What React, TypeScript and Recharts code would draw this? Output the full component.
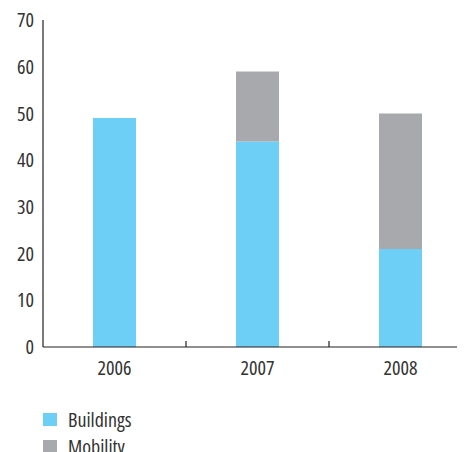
import React from 'react';
import { BarChart, Bar, XAxis, YAxis, Legend } from 'recharts';

const categories = ['2006', '2007', '2008'];
const buildings = [49, 44, 21];
const mobility = [0, 15, 29];
const yTicks = [0, 10, 20, 30, 40, 50, 60, 70];

const data = categories.map((c, i) => ({ year: c, Buildings: buildings[i], Mobility: mobility[i] }));

const FONT = '"Open Sans", sans-serif';
const STRETCH = 'condensed';
const FONT_SIZE = 20;
const TEXT = '#333333';
const AXIS = '#231f20';
const BLUE = '#6dcff6';
const GRAY = '#a7a9ac';
const TICK_SIZE = 6;
const X_TICK_MARGIN = 8;

const LegendContent = () => (
  <div style={{ paddingLeft: 35, fontFamily: FONT, fontStretch: STRETCH, fontSize: FONT_SIZE, color: TEXT }}>
    {[
      { name: 'Buildings', color: BLUE },
      { name: 'Mobility', color: GRAY },
    ].map((it) => (
      <div key={it.name} style={{ height: 27, display: 'flex', alignItems: 'center' }}>
        <span style={{ display: 'inline-block', width: 14, height: 13, background: it.color, marginRight: 11 }} />
        <span>{it.name}</span>
      </div>
    ))}
  </div>
);

const tickStyle = { fill: TEXT, fontSize: FONT_SIZE, fontFamily: FONT, fontStretch: STRETCH } as any;

const XTick = (props: any) => {
  const { x, y, payload, index } = props;
  const half = payload && payload.offset ? payload.offset : 0;
  const axisY = y - TICK_SIZE - X_TICK_MARGIN;
  return (
    <g>
      <text x={x} y={y} dy="0.71em" textAnchor="middle" style={tickStyle} fill={TEXT}>
        {payload.value}
      </text>
      {index < categories.length - 1 && half > 0 && (
        <line x1={x + half} x2={x + half} y1={axisY} y2={axisY - 6} stroke={AXIS} strokeWidth={1.2} />
      )}
    </g>
  );
};

export default function App() {
  return (
    <div style={{ width: 457, height: 452, marginTop: -8, overflow: 'hidden' }}>
      <BarChart
        width={464}
        height={460}
        data={data}
        margin={{ top: 20, right: 0, bottom: 0, left: 0 }}
        barSize={43}
      >
        <XAxis
          dataKey="year"
          height={59}
          tickLine={false}
          tickSize={TICK_SIZE}
          tickMargin={X_TICK_MARGIN}
          axisLine={{ stroke: AXIS, strokeWidth: 1.2 }}
          tick={<XTick />}
        />
        <YAxis
          domain={[0, 70]}
          ticks={yTicks}
          width={35}
          tickLine={false}
          tickMargin={3}
          axisLine={{ stroke: AXIS, strokeWidth: 1.2 }}
          tick={tickStyle}
        />
        <Legend verticalAlign="bottom" align="left" content={<LegendContent />} />
        <Bar dataKey="Buildings" stackId="a" fill={BLUE} isAnimationActive={false} />
        <Bar dataKey="Mobility" stackId="a" fill={GRAY} isAnimationActive={false} />
      </BarChart>
    </div>
  );
}
